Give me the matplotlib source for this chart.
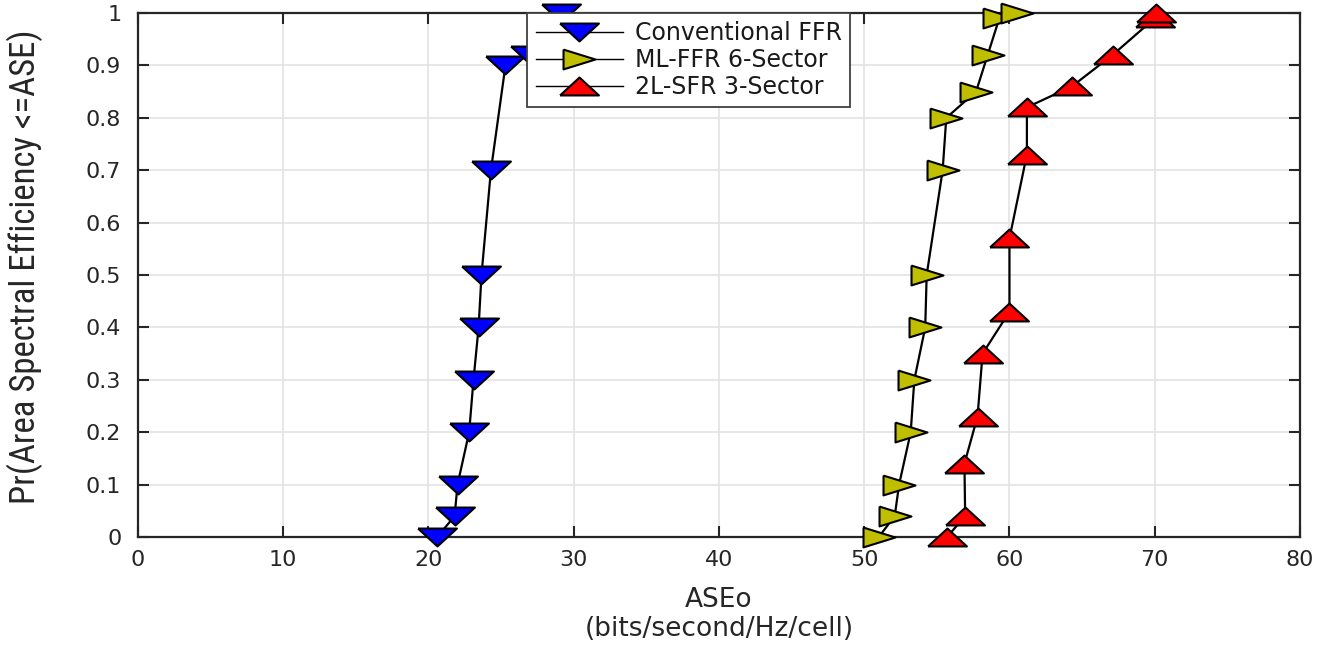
import numpy as np
import matplotlib.pyplot as plt
from matplotlib import font_manager

# ---------------- data ---------------- #
conv_ffr_x = [20.6, 21.8, 22.0, 22.8, 23.1, 23.45, 23.65, 24.3, 25.3, 27.0, 29.1]
conv_ffr_y = [0.0, 0.04, 0.10, 0.20, 0.30, 0.40, 0.50, 0.70, 0.90, 0.92, 1.0]

ml_ffr_x = [51.0, 52.1, 52.4, 53.2, 53.45, 54.2, 54.3, 55.4, 55.65, 57.7, 58.5, 59.3, 60.5]
ml_ffr_y = [0.0, 0.04, 0.10, 0.20, 0.30, 0.40, 0.50, 0.70, 0.80, 0.85, 0.92, 0.99, 1.0]

sfr_x = [55.7, 56.95, 56.9, 57.8, 58.15, 60.0, 60.0, 61.2, 61.2, 64.3, 67.1, 70.0, 70.1]
sfr_y = [0.0, 0.04, 0.14, 0.23, 0.35, 0.43, 0.57, 0.73, 0.82, 0.86, 0.92, 0.99, 1.0]

labels = ['Conventional FFR', 'ML-FFR 6-Sector', '2L-SFR 3-Sector']

x_ticks = np.arange(0, 81, 10)
y_ticks = np.round(np.arange(0, 1.01, 0.1), 1)
y_ticklabels = ['0'] + ['%.1f' % v for v in y_ticks[1:-1]] + ['1']

# flattened (wide) triangle markers, like the stretched original
tri_down = [(-1, 0.46), (1, 0.46), (0, -0.46), (-1, 0.46)]
tri_up = [(-1, -0.46), (1, -0.46), (0, 0.46), (-1, -0.46)]
tri_right = [(-1, 0.62), (1, 0), (-1, -0.62), (-1, 0.62)]

installed = {f.name for f in font_manager.fontManager.ttflist}
main_font = ['DejaVu Sans']
narrow = [f for f in ['Liberation Sans Narrow', 'Roboto Condensed', 'Liberation Sans']
          if f in installed] + ['DejaVu Sans']
ink = '#262626'

fig = plt.figure(figsize=(13.37, 6.45), dpi=100)
ax = fig.add_axes([0.1032, 0.1674, 0.8691, 0.8124])

ax.plot(conv_ffr_x, conv_ffr_y, color='black', lw=1.6, marker=tri_down, ms=28,
        mfc='#0000ff', mec='black', mew=1.5, label=labels[0], clip_on=False, zorder=3)
ax.plot(ml_ffr_x, ml_ffr_y, color='black', lw=1.6, marker=tri_right, ms=23,
        mfc='#bfbf00', mec='black', mew=1.5, label=labels[1], clip_on=False, zorder=3)
ax.plot(sfr_x, sfr_y, color='black', lw=1.6, marker=tri_up, ms=28,
        mfc='#ff0000', mec='black', mew=1.5, label=labels[2], clip_on=False, zorder=3)

ax.set_xlim(0, 80)
ax.set_ylim(0, 1)
ax.set_xticks(x_ticks)
ax.set_yticks(y_ticks)
ax.set_yticklabels(y_ticklabels)
ax.tick_params(direction='in', length=8, width=1.5, top=True, right=True,
               labelsize=16, color=ink, labelcolor=ink)
ax.tick_params(axis='y', pad=12)
ax.tick_params(axis='x', pad=9)
for lab in ax.get_xticklabels() + ax.get_yticklabels():
    lab.set_family(main_font)
ax.grid(True, color='#e3e3e3', lw=1.2)
ax.set_axisbelow(True)
for s in ax.spines.values():
    s.set_color(ink)
    s.set_linewidth(1.6)

ax.set_xlabel('ASEo\n(bits/second/Hz/cell)', fontsize=19, family=main_font,
              color=ink, linespacing=1.15)
ax.xaxis.set_label_coords(0.5, -0.095)
ax.set_ylabel('Pr(Area Spectral Efficiency <=ASE)', fontsize=25, family=narrow,
              color=ink, va='center')
ax.yaxis.set_label_coords(-0.097, 0.515)

leg = ax.legend(loc='upper left', bbox_to_anchor=(0.335, 1.0), borderaxespad=0,
                prop={'family': main_font, 'size': 17}, handlelength=3.7,
                labelspacing=0.12, borderpad=0.35, handletextpad=0.5,
                fancybox=False, framealpha=1, edgecolor='#404040')
leg.get_frame().set_linewidth(1.3)
leg.set_zorder(5)
for t in leg.get_texts():
    t.set_color('#1a1a1a')
for line in leg.get_lines():
    line.set_linewidth(1.0)

fig.savefig('out.png', dpi=100)
